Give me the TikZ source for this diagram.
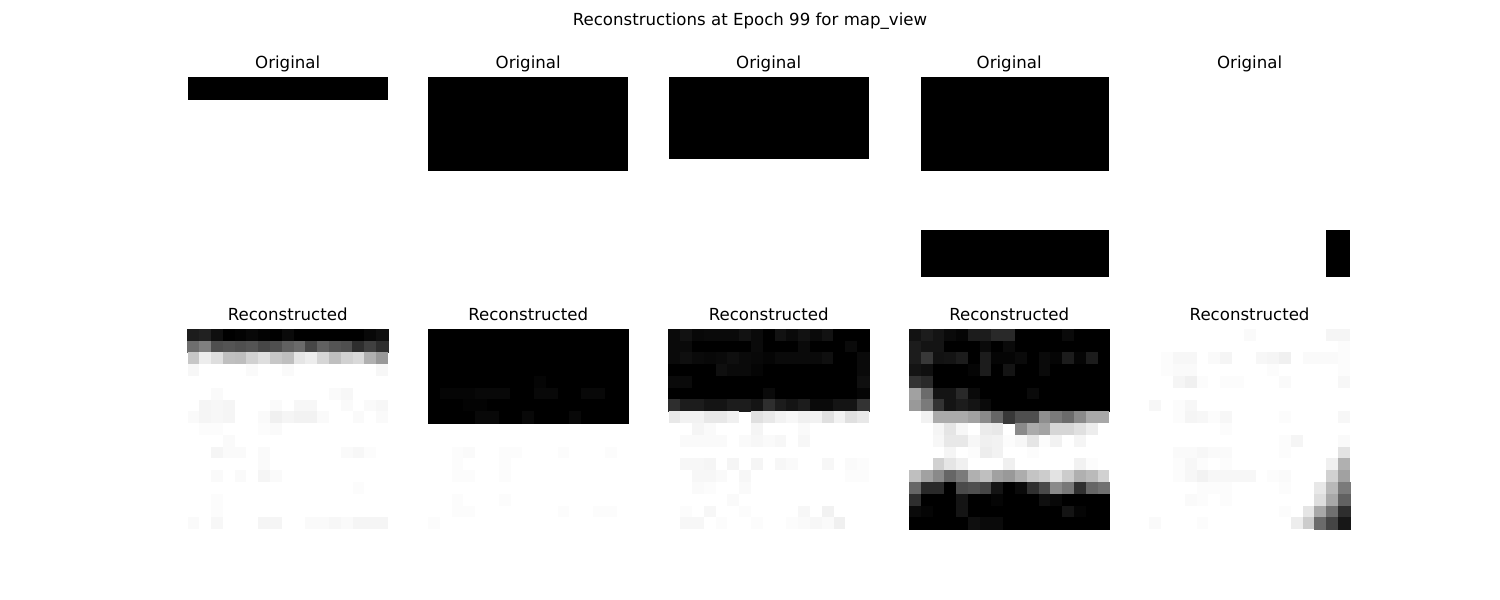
\documentclass[tikz,border=0pt]{standalone}
\usepackage{fontspec}
\setmainfont{DejaVu Sans}
\tikzset{
  paneltitle/.style={anchor=base, inner sep=0pt, font=\fontsize{12pt}{14pt}\selectfont},
  pix/.style={fill=black!#1, draw=black!#1, line width=0.1pt},
  lightpix/.style={fill=black!#1},
}
\newcommand{\cw}{11.788}
% one reconstructed panel: left edge, then 17 rows of 17 grey values (percent black)
\newcommand{\recon}[2]{%
  \foreach \row [count=\ri from 0] in {#2} {
    \foreach \v [count=\ci from 0] in \row {
      \ifnum\v>50
        \path[pix=\v] ({#1+\ci*\cw},{328.8+\ri*\cw}) rectangle ++(\cw,\cw);
      \else\ifnum\v>0
        \path[lightpix=\v] ({#1+\ci*\cw},{328.8+\ri*\cw}) rectangle ++(\cw,\cw);
      \fi\fi
    }
  }
}
\begin{document}
\begin{tikzpicture}[x=0.01in,y=-0.01in]
\useasboundingbox (0,0) rectangle (1500,600);
\node[paneltitle] (head) at (750,26) {Reconstructions at Epoch 99 for map\_view};
\node[paneltitle] (orig1) at (287.7,68.5) {Original};
\node[paneltitle] (orig2) at (528.2,68.5) {Original};
\node[paneltitle] (orig3) at (768.7,68.5) {Original};
\node[paneltitle] (orig4) at (1009.2,68.5) {Original};
\node[paneltitle] (orig5) at (1249.6,68.5) {Original};
\node[paneltitle] (rec1) at (287.7,320.5) {Reconstructed};
\node[paneltitle] (rec2) at (528.2,320.5) {Reconstructed};
\node[paneltitle] (rec3) at (768.7,320.5) {Reconstructed};
\node[paneltitle] (rec4) at (1009.2,320.5) {Reconstructed};
\node[paneltitle] (rec5) at (1249.6,320.5) {Reconstructed};
% originals
\fill[black] (187.5,76.8) rectangle ++({17*\cw},{2*\cw});
\fill[black] (428.0,76.8) rectangle ++({17*\cw},{8*\cw});
\fill[black] (668.5,76.8) rectangle ++({17*\cw},{7*\cw});
\fill[black] ({909.0+\cw},76.8) rectangle ++({16*\cw},{8*\cw});
\fill[black] ({909.0+\cw},{76.8+13*\cw}) rectangle ++({16*\cw},{4*\cw});
\fill[black] ({1149.4+15*\cw},{76.8+13*\cw}) rectangle ++({2*\cw},{4*\cw});
% reconstructions
\recon{187.5}{
{89,87,94,100,99,97,99,100,96,100,100,100,100,100,100,97,94},
{57,50,69,67,69,67,72,69,62,58,72,62,67,69,82,75,82},
{22,7,13,25,26,18,13,22,25,10,7,16,25,18,15,31,40},
{3,0,0,0,0,2,0,0,2,0,0,0,0,0,0,0,3},
{0,0,0,0,0,0,0,0,0,0,0,0,0,0,0,0,0},
{0,0,2,0,0,0,0,0,0,0,0,0,2,3,0,0,0},
{0,4,3,4,0,0,0,2,0,3,3,0,0,2,0,2,3},
{2,4,3,4,0,0,2,6,4,5,5,2,0,0,2,0,2},
{0,1,1,0,0,0,1,2,0,0,0,0,0,0,0,0,0},
{0,0,0,2,0,0,0,0,0,0,0,0,0,0,0,0,0},
{0,0,4,2,2,0,2,0,0,0,0,0,0,2,3,1,0},
{0,0,0,0,0,0,2,0,0,0,0,0,0,0,0,0,0},
{0,0,2,0,2,0,4,2,0,0,0,0,0,0,0,0,0},
{0,0,0,0,0,0,0,0,0,0,0,0,0,0,1,0,0},
{0,0,1,0,0,0,0,0,0,0,0,0,0,0,0,0,0},
{0,0,1,0,0,0,0,0,0,0,0,0,0,0,0,0,0},
{2,0,3,0,0,0,4,4,0,0,2,2,3,2,4,4,4}}
\recon{428.0}{
{100,100,100,100,100,100,100,100,100,100,100,100,100,100,100,100,100},
{100,100,100,100,100,100,100,100,100,100,100,100,100,100,100,100,100},
{100,100,100,100,100,100,100,100,100,100,100,100,100,100,100,100,100},
{100,100,100,100,100,100,100,100,100,100,100,100,100,100,100,100,100},
{100,100,100,100,100,100,100,100,100,98,100,100,100,100,100,100,100},
{100,98,98,98,97,97,97,100,100,97,97,100,100,97,97,100,100},
{100,100,100,99,99,100,100,100,100,100,100,100,100,100,100,100,100},
{100,100,100,100,97,97,100,100,97,100,100,100,97,100,100,100,100},
{0,0,0,0,0,0,0,0,0,0,0,0,0,0,0,0,0},
{0,0,0,0,0,0,0,0,0,0,0,0,0,0,0,0,0},
{0,0,1,2,0,0,1,1,0,0,0,1,0,0,0,1,0},
{0,0,1,0,0,0,1,0,0,0,0,0,0,0,0,0,0},
{0,0,1,1,0,0,1,0,0,0,0,0,0,0,0,0,0},
{0,0,0,0,0,0,0,0,0,0,0,0,0,0,0,0,0},
{0,0,1,0,0,0,1,0,0,0,0,0,0,0,0,0,0},
{0,0,1,1,0,0,0,0,0,0,0,1,0,0,1,1,0},
{1,0,0,0,0,0,0,0,0,0,0,0,0,0,0,0,0}}
\recon{668.5}{
{96,93,97,96,96,96,93,96,100,93,96,93,96,93,100,100,100},
{96,96,100,100,100,100,100,96,100,100,100,96,100,100,100,96,100},
{96,94,96,97,96,94,96,97,98,96,96,96,96,94,100,100,96},
{100,100,100,100,94,96,96,98,100,100,100,100,100,100,100,100,96},
{96,96,100,100,100,100,100,100,100,100,100,100,100,100,100,100,94},
{100,100,100,100,100,100,100,100,96,100,100,100,100,100,100,100,98},
{82,89,89,92,92,89,89,92,82,89,92,89,96,96,92,92,80},
{9,5,5,9,9,6,0,12,9,5,3,6,5,12,5,12,9},
{0,0,4,2,0,0,0,4,0,0,0,2,0,0,0,0,0},
{0,2,2,2,2,0,2,3,2,3,0,3,0,0,0,0,0},
{0,0,0,0,0,0,0,0,0,0,0,0,0,0,0,0,0},
{0,3,3,4,0,4,0,4,0,3,2,0,0,3,0,2,1},
{0,0,3,3,2,0,3,0,0,0,0,0,0,0,0,1,1},
{0,0,2,1,0,0,2,0,0,0,0,0,0,0,0,0,0},
{0,0,0,0,0,2,0,0,0,0,0,0,0,0,0,0,0},
{0,1,0,3,0,0,1,0,0,0,0,3,0,5,0,0,0},
{0,3,3,0,1,0,0,1,0,0,1,2,3,2,6,0,0}}
\recon{909.0}{
{93,89,92,96,98,89,89,84,84,100,100,100,100,96,100,100,100},
{89,92,92,100,100,100,96,100,96,100,100,100,100,100,100,100,100},
{89,78,93,92,89,100,89,98,98,96,100,96,98,89,98,89,100},
{92,94,100,100,100,98,89,100,92,100,100,96,100,100,100,100,100},
{80,84,100,100,100,100,100,100,100,100,100,100,100,100,100,100,100},
{37,58,92,92,84,96,100,100,100,100,96,100,100,100,100,100,100},
{40,52,80,92,89,92,96,100,100,100,100,100,100,100,100,100,100},
{0,5,33,33,33,37,46,60,78,69,69,44,52,58,46,34,34},
{0,0,4,10,3,0,8,9,0,46,33,36,16,16,12,7,0},
{0,0,3,9,9,3,6,5,1,3,10,1,5,0,4,0,0},
{0,0,0,4,0,1,7,5,0,0,1,0,0,0,0,0,0},
{0,0,18,10,6,0,0,0,6,0,0,0,0,0,5,1,0},
{25,37,46,60,52,31,25,37,40,32,23,20,11,20,31,27,18},
{60,84,84,100,71,69,73,92,100,96,81,71,46,53,81,60,56},
{82,100,100,100,92,100,100,98,100,100,100,94,97,100,100,100,100},
{96,98,100,100,92,100,100,100,100,100,100,100,100,92,98,100,100},
{100,100,100,100,100,94,96,96,100,100,100,100,100,100,100,100,100}}
\recon{1149.4}{
{0,0,0,0,0,0,0,0,2,0,0,0,0,0,0,4,4},
{0,0,0,0,0,0,0,0,0,0,0,0,0,0,0,0,1},
{0,1,3,3,0,2,4,0,0,3,4,6,0,2,2,2,1},
{0,1,2,2,0,0,0,0,0,0,1,0,0,0,0,0,1},
{0,0,4,6,1,0,1,1,0,0,0,2,0,0,0,0,3},
{0,0,0,0,0,0,0,0,0,0,0,0,0,0,0,0,0},
{3,0,1,3,0,0,0,0,0,0,0,0,0,0,0,0,0},
{0,0,1,4,3,1,3,0,0,0,0,1,0,0,0,0,3},
{0,0,0,0,0,0,1,0,0,0,0,0,0,0,0,0,0},
{0,0,0,0,0,0,0,0,0,0,0,1,4,0,0,0,2},
{0,0,2,2,3,2,2,0,0,0,0,1,0,0,0,0,11},
{0,0,1,3,1,0,1,0,0,0,0,0,0,0,0,6,31},
{0,0,1,3,5,3,3,3,3,0,1,2,0,0,0,18,37},
{0,0,0,0,1,1,1,0,0,0,0,1,0,0,9,28,52},
{0,0,0,2,1,0,1,0,0,0,0,0,0,0,13,34,62},
{0,0,0,0,0,0,0,0,0,0,0,1,0,10,34,56,82},
{2,0,0,0,1,0,0,0,0,0,0,0,7,20,58,73,91}}
\end{tikzpicture}
\end{document}
